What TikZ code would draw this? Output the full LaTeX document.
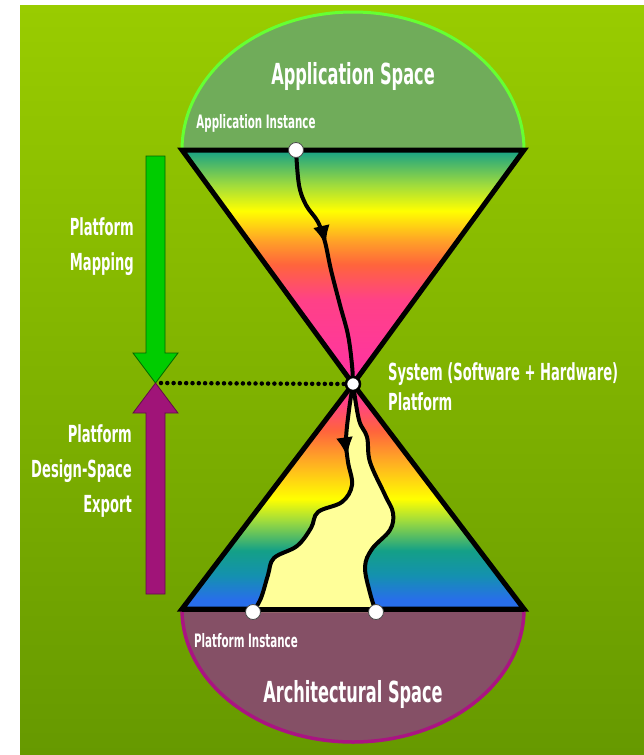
\documentclass[tikz,border=0pt]{standalone}
\usepackage{fontspec}
\newfontfamily\slidefont[FakeStretch=0.62]{DejaVu Sans Condensed}
\usetikzlibrary{positioning,arrows.meta,decorations.markings}

\definecolor{bgtop}{RGB}{153,204,0}
\definecolor{bgbot}{RGB}{102,153,0}
\definecolor{appfill}{RGB}{112,172,90}
\definecolor{appline}{RGB}{102,255,51}
\definecolor{archfill}{RGB}{133,80,102}
\definecolor{archline}{RGB}{170,20,130}
\definecolor{mapgreen}{RGB}{0,204,0}
\definecolor{exppurple}{RGB}{160,20,120}
\definecolor{platyellow}{RGB}{255,255,153}
% cone colours
\definecolor{conepink}{RGB}{255,50,165}
\definecolor{conepinkb}{RGB}{255,65,135}
\definecolor{conered}{RGB}{255,100,60}
\definecolor{coneorange}{RGB}{255,160,40}
\definecolor{coneyellow}{RGB}{255,255,0}
\definecolor{conelime}{RGB}{160,220,60}
\definecolor{coneteal}{RGB}{20,160,135}
\definecolor{conecyan}{RGB}{20,145,175}
\definecolor{coneblue}{RGB}{40,110,235}

% shadings run bottom to top, 25bp..75bp is the path box
\pgfdeclareverticalshading{appcone}{100bp}{
  color(0bp)=(conepink); color(25bp)=(conepink); color(43bp)=(conepinkb);
  color(50.5bp)=(conered); color(55.5bp)=(coneorange); color(62bp)=(coneyellow);
  color(67.5bp)=(conelime); color(75bp)=(coneteal); color(100bp)=(coneteal)}
\pgfdeclareverticalshading{archcone}{100bp}{
  color(0bp)=(coneblue); color(27bp)=(coneblue); color(32.5bp)=(conecyan);
  color(38bp)=(coneteal); color(44.7bp)=(conelime); color(49.5bp)=(coneyellow);
  color(59bp)=(coneorange); color(64.6bp)=(conered); color(71bp)=(conepinkb);
  color(100bp)=(conepinkb)}

\begin{document}
\begin{tikzpicture}[
  x=1pt, y=-1pt,
  cone/.style={draw=black, line width=5pt},
  walk/.style={draw=black, line width=4pt, line cap=round},
  midarrow/.style={postaction={decorate}, decoration={markings,
      mark=at position #1 with {\arrow{Latex[length=20pt,width=17pt]}}}},
  instdot/.style={circle, draw=black!70, fill=white, line width=0.8pt, minimum size=15pt, inner sep=0pt},
  sysdot/.style={circle, draw=black, fill=white, line width=2.5pt, minimum size=14pt, inner sep=0pt},
  spacelabel/.style={text=white, font=\slidefont\bfseries\fontsize{29}{32}\selectfont},
  instlabel/.style={text=white, font=\slidefont\bfseries\fontsize{18.5}{20}\selectfont},
  sidelabel/.style={text=white, font=\slidefont\bfseries\fontsize{23.5}{35}\selectfont, inner sep=0pt},
  bigarrow/.style={line width=0.8pt, line join=miter},
]
  \useasboundingbox (0,0) rectangle (644,755);
  \fill[white] (0,0) rectangle (644,755);
  \shade[top color=bgtop, bottom color=bgbot] (20,5) rectangle (644,755);

  % key points
  \coordinate (apex) at (353,384);
  \coordinate (appinst) at (296,150);
  \coordinate (platleft) at (253,612);
  \coordinate (platright) at (376,612);
  \coordinate (tip) at (155.5,383);

  % the two spaces
  \begin{scope}
    \clip (0,0) rectangle (644,150);
    \draw[appline, fill=appfill, line width=3pt] (353,150) ellipse [x radius=171, y radius=138];
  \end{scope}
  \begin{scope}
    \clip (0,609) rectangle (644,755);
    \draw[archline, fill=archfill, line width=3.5pt] (353,609) ellipse [x radius=171, y radius=133];
  \end{scope}

  % the two cones
  \draw[cone, shading=appcone] (182,150) -- (524,150) -- (apex) -- cycle;
  \draw[cone, shading=archcone] (182,609) -- (524,609) -- (apex) -- cycle;

  % platform region below the system point
  \fill[platyellow] plot[smooth, tension=0.6] coordinates {(apex) (349,410) (346,440) (348,462)
      (352,485) (342,502) (318,512) (311,528) (297,546) (274,558) (268,575) (261,598) (platleft)}
    -- plot[smooth, tension=0.6] coordinates {(platright) (370,593) (365,567) (372,549) (390,530)
      (393,513) (385,495) (370,462) (367,437) (359,420) (apex)} -- cycle;
  \draw[cone] (182,609) -- (524,609);

  % refinement walks
  \draw[walk, midarrow=0.42] plot[smooth, tension=0.6] coordinates {(appinst) (299,185) (306,205)
      (318,222) (325,242) (331,270) (340,305) (348,335) (352,365) (apex)};
  \draw[walk, midarrow=0.27] plot[smooth, tension=0.6] coordinates {(apex) (349,410) (346,440) (348,462)
      (352,485) (342,502) (318,512) (311,528) (297,546) (274,558) (268,575) (261,598) (platleft)};
  \draw[walk] plot[smooth, tension=0.6] coordinates {(apex) (359,420) (367,437) (370,462) (385,495)
      (393,513) (390,530) (372,549) (365,567) (370,593) (platright)};

  % side arrows
  \draw[bigarrow, draw=green!40!black, fill=mapgreen] (146,156) -- (165,156) -- (165,353)
    -- (178,353) -- (tip) -- (133,353) -- (146,353) -- cycle;
  \draw[bigarrow, draw=exppurple!60!black, fill=exppurple] (146,594) -- (165,594) -- (165,413)
    -- (178,413) -- (tip) -- (133,413) -- (146,413) -- cycle;
  \draw[black, line width=4.5pt, line cap=round, dash pattern=on 0pt off 6.3pt] (161,383) -- (apex);

  % points
  \node[instdot] (appdot) at (appinst) {};
  \node[instdot] (platdotl) at (platleft) {};
  \node[instdot] (platdotr) at (platright) {};
  \node[sysdot] (sys) at (apex) {};

  % labels
  \node[spacelabel] (appspace) at (353,76) {Application Space};
  \node[instlabel] (appinstlabel) at (256,123) {Application Instance};
  \node[spacelabel] (archspace) at (353,694) {Architectural Space};
  \node[instlabel] (platinstlabel) at (246,641) {Platform Instance};
  \node[sidelabel, align=right, anchor=east] (maplabel) at (134,247) {Platform\\Mapping};
  \node[sidelabel, align=right, anchor=east] (explabel) at (132,471) {Platform\\Design-Space\\Export};
  \node[sidelabel, align=left, anchor=west, font=\slidefont\bfseries\fontsize{23.5}{30}\selectfont]
    (syslabel) at (388,387) {System (Software + Hardware)\\Platform};
\end{tikzpicture}
\end{document}
